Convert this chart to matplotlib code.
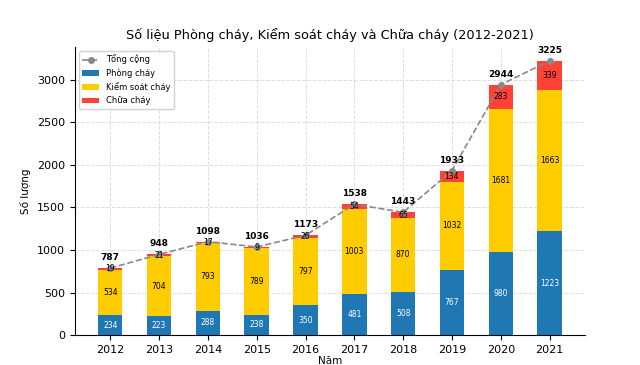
import matplotlib
matplotlib.use('Agg')
import matplotlib.pyplot as plt
import numpy as np

years = [2012, 2013, 2014, 2015, 2016, 2017, 2018, 2019, 2020, 2021]
phong_chay = [234, 223, 288, 238, 350, 481, 508, 767, 980, 1223]
kiem_soat = [534, 704, 793, 789, 797, 1003, 870, 1032, 1681, 1663]
chua_chay = [19, 21, 17, 9, 26, 54, 65, 134, 283, 339]
tong_cong = [787, 948, 1098, 1036, 1173, 1538, 1443, 1933, 2944, 3225]

fig = plt.figure(figsize=(6.4, 3.65), dpi=100)
ax = fig.add_axes([0.117, 0.082, 0.797, 0.789])

x = np.arange(len(years))
w = 0.5
p = np.array(phong_chay)
k = np.array(kiem_soat)
c = np.array(chua_chay)

ax.plot(x, tong_cong, '--o', color='#888888', markersize=4, linewidth=1.2,
        label='Tổng cộng', zorder=3)
ax.bar(x, p, w, color='#1f77b4', label='Phòng cháy', zorder=2)
ax.bar(x, k, w, bottom=p, color='#ffcc00', label='Kiểm soát cháy', zorder=2)
ax.bar(x, c, w, bottom=p + k, color='#ff4136', label='Chữa cháy', zorder=2)

for i in range(len(years)):
    ax.text(x[i], p[i] / 2, str(p[i]), ha='center', va='center', color='white', fontsize=5.5, zorder=4)
    ax.text(x[i], p[i] + k[i] / 2, str(k[i]), ha='center', va='center', color='black', fontsize=5.5, zorder=4)
    ax.text(x[i], p[i] + k[i] + c[i] / 2, str(c[i]), ha='center', va='center', color='black', fontsize=5.5, zorder=4)
    ax.text(x[i], tong_cong[i] + 70, str(tong_cong[i]), ha='center', va='bottom',
            fontsize=6.5, fontweight='bold', zorder=4)

ax.set_xticks(x)
ax.set_xticklabels([str(y) for y in years], fontsize=8)
ax.tick_params(axis='y', labelsize=8)
ax.set_ylim(0, 3386)
ax.set_xlim(-0.725, 9.725)
ax.set_xlabel('Năm', fontsize=7.5, labelpad=1)
ax.set_ylabel('Số lượng', fontsize=7.5)
ax.set_title('Số liệu Phòng cháy, Kiểm soát cháy và Chữa cháy (2012-2021)', fontsize=9.3, pad=6)
ax.grid(True, linestyle='--', color='#dddddd', linewidth=0.7, zorder=0)
ax.set_axisbelow(True)
for s in ['top', 'right']:
    ax.spines[s].set_visible(False)

ax.legend(loc='upper left', fontsize=6, framealpha=0.9)

fig.savefig('out.png', dpi=100)
